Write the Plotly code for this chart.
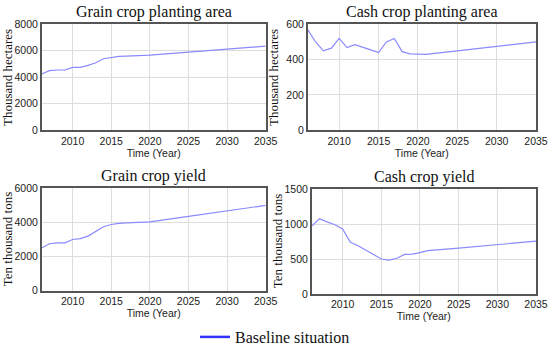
import plotly.graph_objects as go

grain_area_years = [2006, 2007, 2008, 2009, 2010, 2011, 2012, 2013, 2014, 2015, 2016, 2017, 2018, 2019, 2020, 2025, 2030, 2035]
grain_area = [4250, 4500, 4550, 4550, 4750, 4750, 4900, 5100, 5400, 5500, 5580, 5600, 5620, 5650, 5680, 5900, 6120, 6350]

cash_area_years = [2006, 2007, 2008, 2009, 2010, 2011, 2012, 2013, 2014, 2015, 2016, 2017, 2018, 2019, 2020, 2021, 2025, 2030, 2035]
cash_area = [570, 500, 450, 465, 520, 468, 485, 472, 455, 440, 500, 520, 445, 433, 430, 430, 450, 475, 500]

grain_yield_years = [2006, 2007, 2008, 2009, 2010, 2011, 2012, 2013, 2014, 2015, 2016, 2017, 2018, 2019, 2020, 2025, 2030, 2035]
grain_yield = [2500, 2750, 2800, 2800, 3000, 3050, 3200, 3450, 3750, 3880, 3950, 3970, 3980, 4000, 4030, 4350, 4680, 5000]

cash_yield_years = [2006, 2007, 2008, 2009, 2010, 2011, 2012, 2013, 2014, 2015, 2016, 2017, 2018, 2019, 2020, 2021, 2025, 2030, 2035]
cash_yield = [970, 1075, 1030, 990, 930, 740, 690, 630, 560, 500, 485, 510, 565, 570, 590, 620, 655, 705, 755]

titles = ["Grain crop planting area", "Cash crop planting area", "Grain crop yield", "Cash crop yield"]
ytitles = ["Thousand hectares", "Thousand hectares", "Ten thousand tons", "Ten thousand tons"]
yranges = [[0, 8000], [0, 600], [0, 6000], [0, 1500]]
ydticks = [2000, 200, 2000, 500]
xticks = [2010, 2015, 2020, 2025, 2030, 2035]
legend_name = "Baseline situation"

W, H = 550, 348


def px(x):
    return x / W


def py(y):
    return 1 - y / H


# panel boxes in pixels: left, right, top, bottom
boxes = [
    (41.7, 265.7, 24.3, 130.3),
    (307.7, 536.0, 24.3, 130.3),
    (41.7, 265.7, 188.3, 290.7),
    (311.7, 536.0, 189.0, 294.0),
]
series = [(grain_area_years, grain_area), (cash_area_years, cash_area),
          (grain_yield_years, grain_yield), (cash_yield_years, cash_yield)]

fig = go.Figure()
serif = "Liberation Serif"
sans = "Liberation Sans"
annotations = []
for i, ((l, r, t, b), (xs, ys)) in enumerate(zip(boxes, series)):
    n = "" if i == 0 else str(i + 1)
    fig.add_trace(go.Scatter(x=xs, y=ys, mode="lines", xaxis="x" + n, yaxis="y" + n,
                             line=dict(color="#8a8aff", width=1.2), showlegend=False,
                             hoverinfo="skip"))
    axcommon = dict(showline=True, mirror=True, linecolor="#555555", linewidth=1.5,
                    showgrid=True, gridcolor="#dddddd", gridwidth=1, ticks="",
                    zeroline=False, automargin=False,
                    tickfont=dict(family=sans, size=10.5, color="#222"))
    fig.update_layout(**{
        "xaxis" + n: dict(domain=[px(l), px(r)], anchor="y" + n, range=[2006, 2035],
                          tickvals=xticks,
                          title=dict(text="Time (Year)", font=dict(family=sans, size=10.5, color="#222"), standoff=1),
                          **axcommon),
        "yaxis" + n: dict(domain=[py(b), py(t)], anchor="x" + n, range=yranges[i],
                          dtick=ydticks[i], **axcommon),
    })
    annotations.append(dict(text=titles[i], x=px((l + r) / 2), y=py(t - 12), xref="paper", yref="paper",
                            showarrow=False, font=dict(family=serif, size=16, color="#111"),
                            xanchor="center", yanchor="middle"))
    annotations.append(dict(text=ytitles[i], x=px(l - 34), y=py((t + b) / 2), xref="paper", yref="paper",
                            showarrow=False, textangle=-90, font=dict(family=serif, size=13, color="#111"),
                            xanchor="center", yanchor="middle"))

fig.add_trace(go.Scatter(x=[None], y=[None], mode="lines", name=legend_name,
                         line=dict(color="#3030ff", width=2.5), showlegend=True))

fig.update_layout(
    width=W, height=H, margin=dict(l=0, r=0, t=0, b=0, autoexpand=False),
    paper_bgcolor="white", plot_bgcolor="white",
    annotations=annotations,
    showlegend=True,
    legend=dict(orientation="h", x=px(275), xanchor="center", y=py(337), yanchor="middle",
                font=dict(family=serif, size=16, color="#111"), bgcolor="rgba(0,0,0,0)"),
)
fig.write_html("out.html", config={"displayModeBar": False},
               post_script="document.body.style.margin='0px';")
